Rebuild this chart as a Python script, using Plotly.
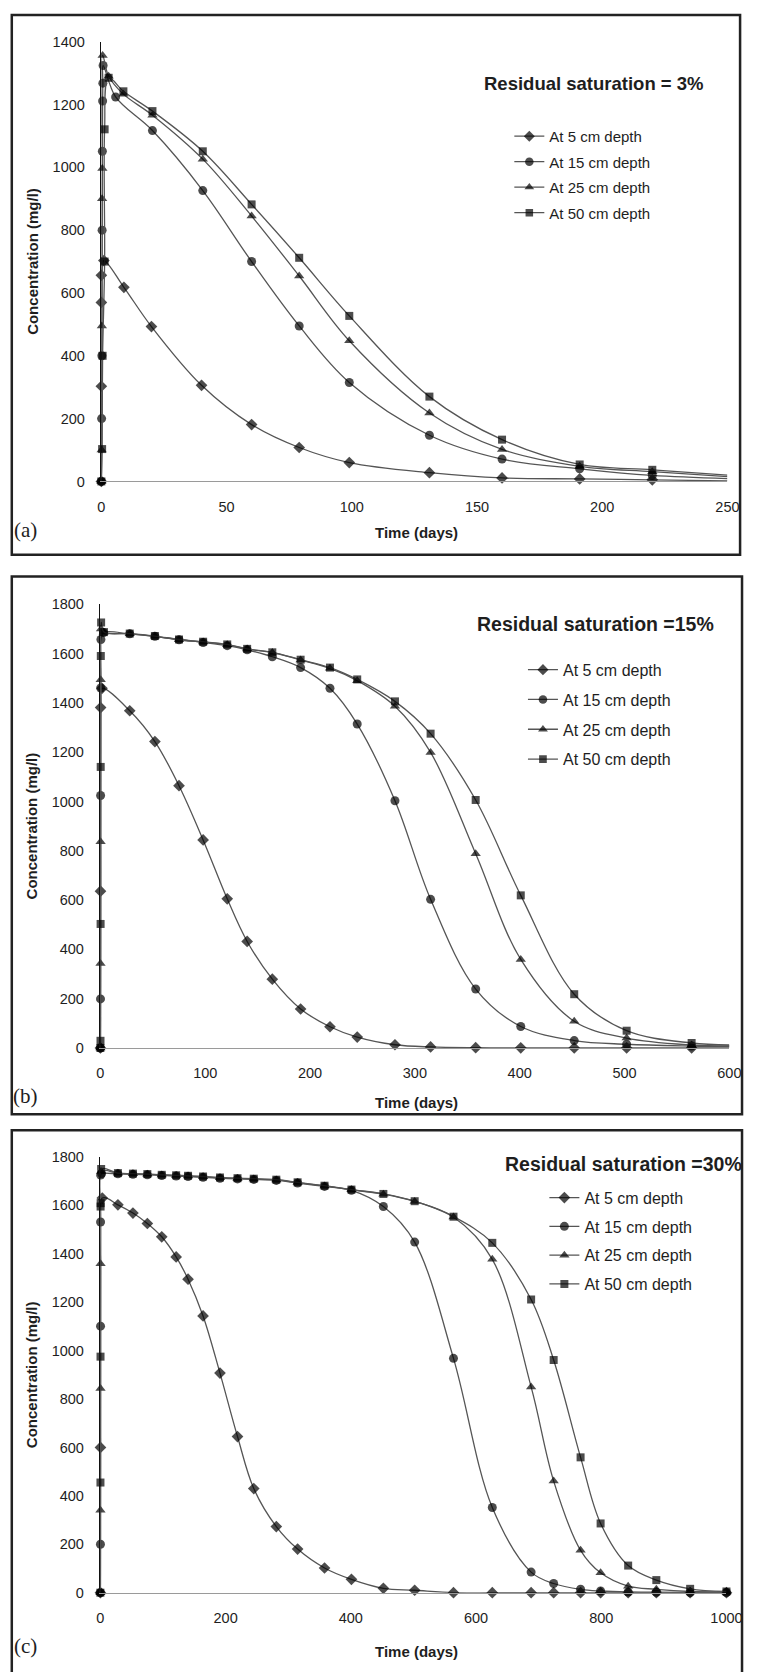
import plotly.graph_objects as go

W, H = 759, 1672

# ---------------- DATA ----------------
# Panel (a): residual saturation = 3%
a_t5 = [0, 0, 0, 0, 1, 9, 20, 40, 60, 79, 99, 131, 160, 191, 220, 250]
a_c5 = [0, 303, 570, 656, 703, 618, 493, 306, 181, 108, 60, 28, 11, 8, 5, 2]
a_t15 = [0, 0.1, 0.2, 0.3, 0.4, 0.5, 0.6, 0.7, 5.7, 20.4, 40.5, 60, 79, 99, 131, 160, 191, 220, 250]
a_c15 = [0, 200, 400, 800, 1051, 1211, 1268, 1324, 1224, 1117, 926, 700, 495, 315, 147, 71, 40, 19, 9]
a_t25 = [0, 0.1, 0.2, 0.3, 0.4, 0.5, 2.9, 8.8, 20.4, 40.5, 60, 79, 99, 131, 160, 191, 220, 250]
a_c25 = [0, 100, 495, 900, 996, 1356, 1290, 1233, 1166, 1026, 845, 654, 448, 218, 102, 48, 31, 15]
a_t50 = [0, 0.3, 0.5, 1.3, 1.3, 2.9, 8.8, 20.4, 40.5, 60, 79, 99, 131, 160, 191, 220, 250]
a_c50 = [0, 103, 400, 700, 1121, 1285, 1242, 1179, 1051, 882, 712, 527, 270, 133, 54, 37, 20]

# Panel (b): residual saturation = 15%
b_T = [28, 52, 75, 98, 121, 140, 164, 191, 219, 245, 281, 315, 358, 401, 452, 502, 564, 600]
b_t5 = [0, 0.1, 0.2, 1.5] + b_T
b_c5 = [0, 636, 1381, 1459,
        1368, 1243, 1064, 844, 605, 432, 279, 158, 86, 44, 13, 4, 1, 0.5, 0.3, 0.2, 0.1, 0]
b_t15 = [0, 0.1, 0.2, 0.3, 0.5, 3] + b_T
b_c15 = [0, 199, 1024, 1460, 1657, 1685,
         1680, 1670, 1656, 1645, 1632, 1615, 1587, 1543, 1459, 1314, 1003, 603, 239, 87, 30, 15, 8, 6]
b_t25 = [0, 0.1, 0.2, 0.3, 0.6, 3.2] + b_T
b_c25 = [0, 343, 836, 1494, 1700, 1686,
         1680, 1670, 1656, 1647, 1636, 1618, 1604, 1574, 1540, 1490, 1386, 1199, 788, 359, 108, 40, 12, 8]
b_t50 = [0, 0.1, 0.2, 0.3, 0.4, 0.7, 3.4] + b_T
b_c50 = [0, 29, 503, 1140, 1590, 1726, 1687,
         1681, 1671, 1657, 1648, 1637, 1619, 1605, 1575, 1543, 1495, 1406, 1275, 1006, 619, 218, 70, 20, 12]

# Panel (c): residual saturation = 30%
c_T = [28, 52, 75, 98, 121, 140, 164, 191, 219, 245, 281, 315, 358, 401, 452, 502,
       564, 626, 688, 724, 767, 799, 843, 888, 942, 1000]
c_t5 = [0, 0.1, 3] + c_T
c_c5 = [0, 600, 1630,
        1602, 1568, 1525, 1470, 1387, 1295, 1143, 907, 645, 430, 273, 180, 102, 55, 18, 10,
        0, 0, 0, 0, 0, 0, 0, 0, 0, 0]
c_t15 = [0, 0.1, 0.2, 0.3, 0.4, 2] + c_T
c_c15 = [0, 200, 1101, 1531, 1725, 1731,
         1730, 1728, 1726, 1723, 1721, 1719, 1716, 1712, 1709, 1707, 1703, 1692, 1678, 1662,
         1595, 1448, 968, 352, 85, 38, 14, 7, 3, 2, 1, 1]
c_t25 = [0, 0.1, 0.2, 0.3, 1] + c_T
c_c25 = [0, 340, 843, 1359, 1740,
         1732, 1730, 1728, 1725, 1723, 1721, 1718, 1714, 1711, 1709, 1705, 1694, 1680, 1664,
         1646, 1616, 1552, 1377, 850, 461, 175, 82, 27, 14, 5, 3]
c_t50 = [0, 0.1, 0.2, 0.3, 0.4, 1.2] + c_T
c_c50 = [0, 455, 975, 1595, 1609, 1750,
         1733, 1731, 1729, 1726, 1724, 1722, 1719, 1715, 1712, 1710, 1706, 1695, 1681, 1665,
         1647, 1617, 1553, 1445, 1211, 961, 559, 286, 112, 52, 16, 5]

series_names = ["At 5 cm depth", "At 15 cm depth", "At 25 cm depth", "At 50 cm depth"]
panel_titles = ["Residual saturation = 3%", "Residual saturation =15%", "Residual saturation =30%"]
panel_labels = ["(a)", "(b)", "(c)"]
x_ticks = [[0, 50, 100, 150, 200, 250],
           [0, 100, 200, 300, 400, 500, 600],
           [0, 200, 400, 600, 800, 1000]]
y_ticks = [[0, 200, 400, 600, 800, 1000, 1200, 1400],
           [0, 200, 400, 600, 800, 1000, 1200, 1400, 1600, 1800],
           [0, 200, 400, 600, 800, 1000, 1200, 1400, 1600, 1800]]
x_title = "Time (days)"
y_title = "Concentration (mg/l)"

panels = [
    [(a_t5, a_c5), (a_t15, a_c15), (a_t25, a_c25), (a_t50, a_c50)],
    [(b_t5, b_c5), (b_t15, b_c15), (b_t25, b_c25), (b_t50, b_c50)],
    [(c_t5, c_c5), (c_t15, c_c15), (c_t25, c_c25), (c_t50, c_c50)],
]
hide_last = [True, True, False]

# ---------------- STYLE / LAYOUT ----------------
def px_x(p):
    return p / W


def px_y(p):
    return 1 - p / H


SANS = "Liberation Sans, Arial, sans-serif"
SERIF = "Liberation Serif, Times New Roman, serif"
TXT = "#1e1e1e"

symbols = ["diamond", "circle", "triangle-up", "square"]
msizes = [9, 9, 9, 8]

# plot area pixels: (x0, x1, y_top, y_bottom)
plot_px = [(100, 743, 34, 478), (99, 745, 602, 1050), (99, 742, 1160, 1600)]
border_px = [(8, 756, 7, 552), (8, 758, 574, 1117), (8, 758, 1133, 1700)]
title_px = [(606, 76, 18.5), (607, 622, 19.5), (636, 1167, 19.5)]
legend_px = [(519, 113, 3, 15), (533, 651, 6, 16), (555, 1184, 5, 16)]  # x, y top, gap, font
label_px = [(22, 527), (22, 1099), (22, 1654)]
xtitle_px = [(424, 530), (424, 1105), (424, 1659)]

fig = go.Figure()

for i, series in enumerate(panels):
    sfx = "" if i == 0 else str(i + 1)
    leg = "legend" if i == 0 else f"legend{i + 1}"
    for j, (xs, ys) in enumerate(series):
        sizes = [msizes[j]] * len(xs)
        if hide_last[i]:
            sizes[-1] = 0
        fig.add_trace(go.Scatter(
            x=xs, y=ys, mode="lines+markers", name=series_names[j],
            xaxis="x" + sfx, yaxis="y" + sfx, legend=leg,
            legendgroup=f"p{i}s{j}",
            line=dict(color="#555555", width=1.3, shape="spline", smoothing=1.0),
            marker=dict(symbol=symbols[j], size=sizes, color="#000000",
                        line=dict(width=0)),
            cliponaxis=False,
        ))

    x0, x1, yt, yb = plot_px[i]
    xr = [0, x_ticks[i][-1]]
    yr = [0, y_ticks[i][-1]]
    fig.layout["xaxis" + sfx] = dict(
        domain=[px_x(x0), px_x(x1)], range=xr, anchor="y" + sfx,
        tickmode="array", tickvals=x_ticks[i], ticks="", showgrid=False, zeroline=False,
        showline=True, linecolor="#9a9a9a", linewidth=1,
        tickfont=dict(family=SANS, size=14.5, color=TXT), ticklabelstandoff=12,
    )
    fig.layout["yaxis" + sfx] = dict(
        domain=[px_y(yb), px_y(yt)], range=yr, anchor="x" + sfx,
        tickmode="array", tickvals=y_ticks[i], ticks="", showgrid=False, zeroline=False,
        showline=True, linecolor="#111111", linewidth=1.6,
        tickfont=dict(family=SANS, size=14.5, color=TXT), ticklabelstandoff=12,
        title=dict(text="<b>" + y_title + "</b>", font=dict(family=SANS, size=15, color=TXT),
                   standoff=10),
    )

    lx, ly, gap, lfs = legend_px[i]
    fig.layout[leg] = dict(
        x=px_x(lx), y=px_y(ly), xanchor="left", yanchor="top",
        font=dict(family=SANS, size=lfs, color=TXT), bgcolor="rgba(0,0,0,0)",
        borderwidth=0, traceorder="grouped", tracegroupgap=gap, itemwidth=30,
    )

    bx0, bx1, by0, by1 = border_px[i]
    fig.add_shape(type="rect", xref="paper", yref="paper",
                  x0=px_x(bx0), x1=px_x(bx1), y0=px_y(by1), y1=px_y(by0),
                  line=dict(color="#222222", width=2.5), fillcolor="rgba(0,0,0,0)", layer="below")

    tx, ty, tfs = title_px[i]
    fig.add_annotation(xref="paper", yref="paper", x=px_x(tx), y=px_y(ty),
                       text="<b>" + panel_titles[i] + "</b>", showarrow=False,
                       xanchor="center", yanchor="middle",
                       font=dict(family=SANS, size=tfs, color=TXT))
    xtx, xty = xtitle_px[i]
    fig.add_annotation(xref="paper", yref="paper", x=px_x(xtx), y=px_y(xty),
                       text="<b>" + x_title + "</b>", showarrow=False,
                       xanchor="center", yanchor="middle",
                       font=dict(family=SANS, size=15, color=TXT))
    lbx, lby = label_px[i]
    fig.add_annotation(xref="paper", yref="paper", x=px_x(lbx), y=px_y(lby),
                       text=panel_labels[i], showarrow=False,
                       xanchor="center", yanchor="middle",
                       font=dict(family=SERIF, size=21, color=TXT))

fig.update_layout(
    width=W, height=H, margin=dict(l=0, r=0, t=0, b=0),
    paper_bgcolor="white", plot_bgcolor="white", showlegend=True, hovermode=False,
)

# remove the browser's default 8px body margin so the figure fills the window exactly
fig.write_html("out.html",
               config={"displayModeBar": False, "staticPlot": True},
               post_script="document.body.style.margin='0';document.body.style.overflow='hidden';")
